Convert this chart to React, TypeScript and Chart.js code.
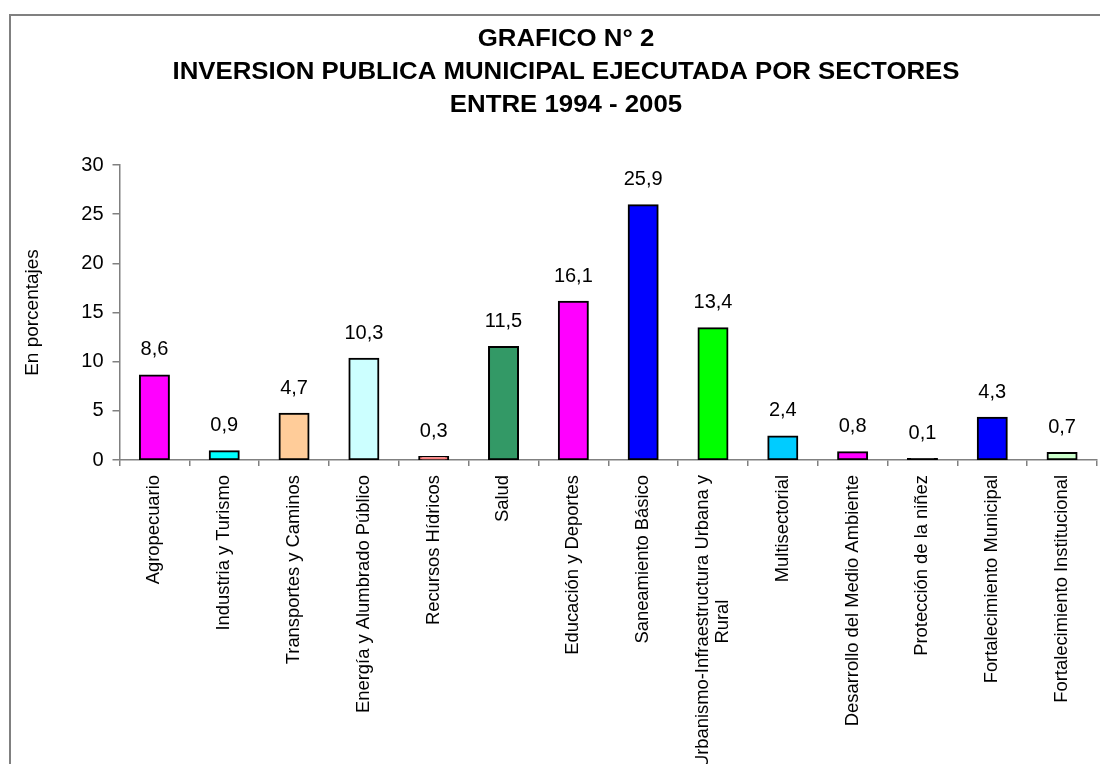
import React, { useEffect, useRef } from 'react';
import { Chart, registerables } from 'chart.js';

Chart.register(...registerables);

const titleLines = [
  'GRAFICO N° 2',
  'INVERSION PUBLICA MUNICIPAL EJECUTADA POR SECTORES',
  'ENTRE 1994 - 2005',
];

const categories: (string | string[])[] = [
  'Agropecuario',
  'Industria y Turismo',
  'Transportes y Caminos',
  'Energía y Alumbrado Público',
  'Recursos Hídricos',
  'Salud',
  'Educación y Deportes',
  'Saneamiento Básico',
  ['Urbanismo-Infraestructura Urbana y', 'Rural'],
  'Multisectorial',
  'Desarrollo del Medio Ambiente',
  'Protección de la niñez',
  'Fortalecimiento Municipal',
  'Fortalecimiento Institucional',
];

const values = [8.6, 0.9, 4.7, 10.3, 0.3, 11.5, 16.1, 25.9, 13.4, 2.4, 0.8, 0.1, 4.3, 0.7];

const barColors = [
  '#FF00FF', '#00FFFF', '#FFCC99', '#CCFFFF', '#FF8080', '#339966', '#FF00FF',
  '#0000FF', '#00FF00', '#00CCFF', '#FF00FF', '#000000', '#0000FF', '#CCFFCC',
];

const yTicks = [0, 5, 10, 15, 20, 25, 30];
const yAxisTitle = 'En porcentajes';

const FONT = "'Liberation Sans', Arial, sans-serif";

const overlayPlugin = {
  id: 'overlay',
  afterDraw(chart: any) {
    const ctx: CanvasRenderingContext2D = chart.ctx;
    ctx.save();
    ctx.fillStyle = '#000';

    // Title
    ctx.font = `bold 24px ${FONT}`;
    const w2 = ctx.measureText(titleLines[1]).width;
    const f = 787 / w2;
    const titleBase = [46, 79, 112];
    titleLines.forEach((t, i) => {
      ctx.save();
      ctx.translate(566, titleBase[i]);
      ctx.scale(f, 1);
      ctx.textAlign = 'center';
      ctx.textBaseline = 'alphabetic';
      ctx.fillText(t, 0, 0);
      ctx.restore();
    });

    // Value labels
    const meta = chart.getDatasetMeta(0);
    ctx.font = `20px ${FONT}`;
    ctx.textAlign = 'center';
    ctx.textBaseline = 'alphabetic';
    meta.data.forEach((el: any, i: number) => {
      ctx.fillText(values[i].toFixed(1).replace('.', ','), el.x, el.y - 20);
    });

    // Category labels (rotated)
    const xs = chart.scales.x;
    ctx.font = `18px ${FONT}`;
    const refW = ctx.measureText('Energía y Alumbrado Público').width;
    const g = 238 / refW;
    const top = 475;
    const lh = 20;
    categories.forEach((c, i) => {
      const lines = Array.isArray(c) ? c : [c];
      const cx = xs.getPixelForValue(i);
      const firstW = ctx.measureText(lines[0]).width;
      lines.forEach((ln, j) => {
        const lx = cx + (j - (lines.length - 1) / 2) * lh;
        ctx.save();
        ctx.translate(lx, top);
        ctx.rotate(-Math.PI / 2);
        ctx.scale(g, 1);
        ctx.textBaseline = 'middle';
        if (j === 0) {
          ctx.textAlign = 'right';
          ctx.fillText(ln, 0, 0);
        } else {
          ctx.textAlign = 'center';
          ctx.fillText(ln, -firstW / 2, 0);
        }
        ctx.restore();
      });
    });

    ctx.restore();
  },
};

export default function App() {
  const canvasRef = useRef<HTMLCanvasElement | null>(null);

  useEffect(() => {
    if (!canvasRef.current) return;
    const chart = new Chart(canvasRef.current, {
      type: 'bar',
      data: {
        labels: categories.map((c) => (Array.isArray(c) ? c.join(' ') : c)),
        datasets: [
          {
            data: values,
            backgroundColor: barColors,
            borderColor: '#000000',
            borderWidth: 2,
            borderSkipped: false,
            barThickness: 29,
            inflateAmount: 1,
          },
        ],
      },
      options: {
        responsive: false,
        animation: false,
        devicePixelRatio: 1,
        layout: { padding: { left: 0, top: 165, right: 3, bottom: 0 } },
        plugins: {
          legend: { display: false },
          title: { display: false },
          tooltip: { enabled: false },
        },
        scales: {
          x: {
            ticks: { display: false },
            grid: {
              display: true,
              drawOnChartArea: false,
              drawTicks: true,
              tickLength: 6,
              color: '#808080',
              lineWidth: 1.5,
              offset: true,
            },
            border: { display: true, color: '#808080', width: 1.5 },
            afterFit: (s: any) => {
              s.height = 764 - 460;
            },
          },
          y: {
            min: yTicks[0],
            max: yTicks[yTicks.length - 1],
            ticks: {
              stepSize: yTicks[1] - yTicks[0],
              color: '#000',
              font: { family: FONT, size: 20 },
              padding: 9,
            },
            grid: {
              display: true,
              drawOnChartArea: false,
              drawTicks: true,
              tickLength: 7,
              color: '#808080',
              lineWidth: 1.5,
            },
            border: { display: true, color: '#808080', width: 1.5 },
            title: {
              display: true,
              text: yAxisTitle,
              color: '#000',
              font: { family: FONT, size: 19 },
              padding: { top: 21, bottom: 0 },
            },
            afterFit: (s: any) => {
              s.width = 119.5;
            },
          },
        },
      },
      plugins: [overlayPlugin],
    });
    return () => chart.destroy();
  }, []);

  return (
    <>
      <div
        style={{
          position: 'absolute',
          left: 9,
          top: 14,
          width: 1091,
          height: 750,
          borderLeft: '2px solid #808080',
          borderTop: '2px solid #808080',
          boxSizing: 'border-box',
        }}
      />
      <canvas
        ref={canvasRef}
        width={1100}
        height={764}
        style={{ position: 'absolute', left: 0, top: 0, width: 1100, height: 764 }}
      />
    </>
  );
}
